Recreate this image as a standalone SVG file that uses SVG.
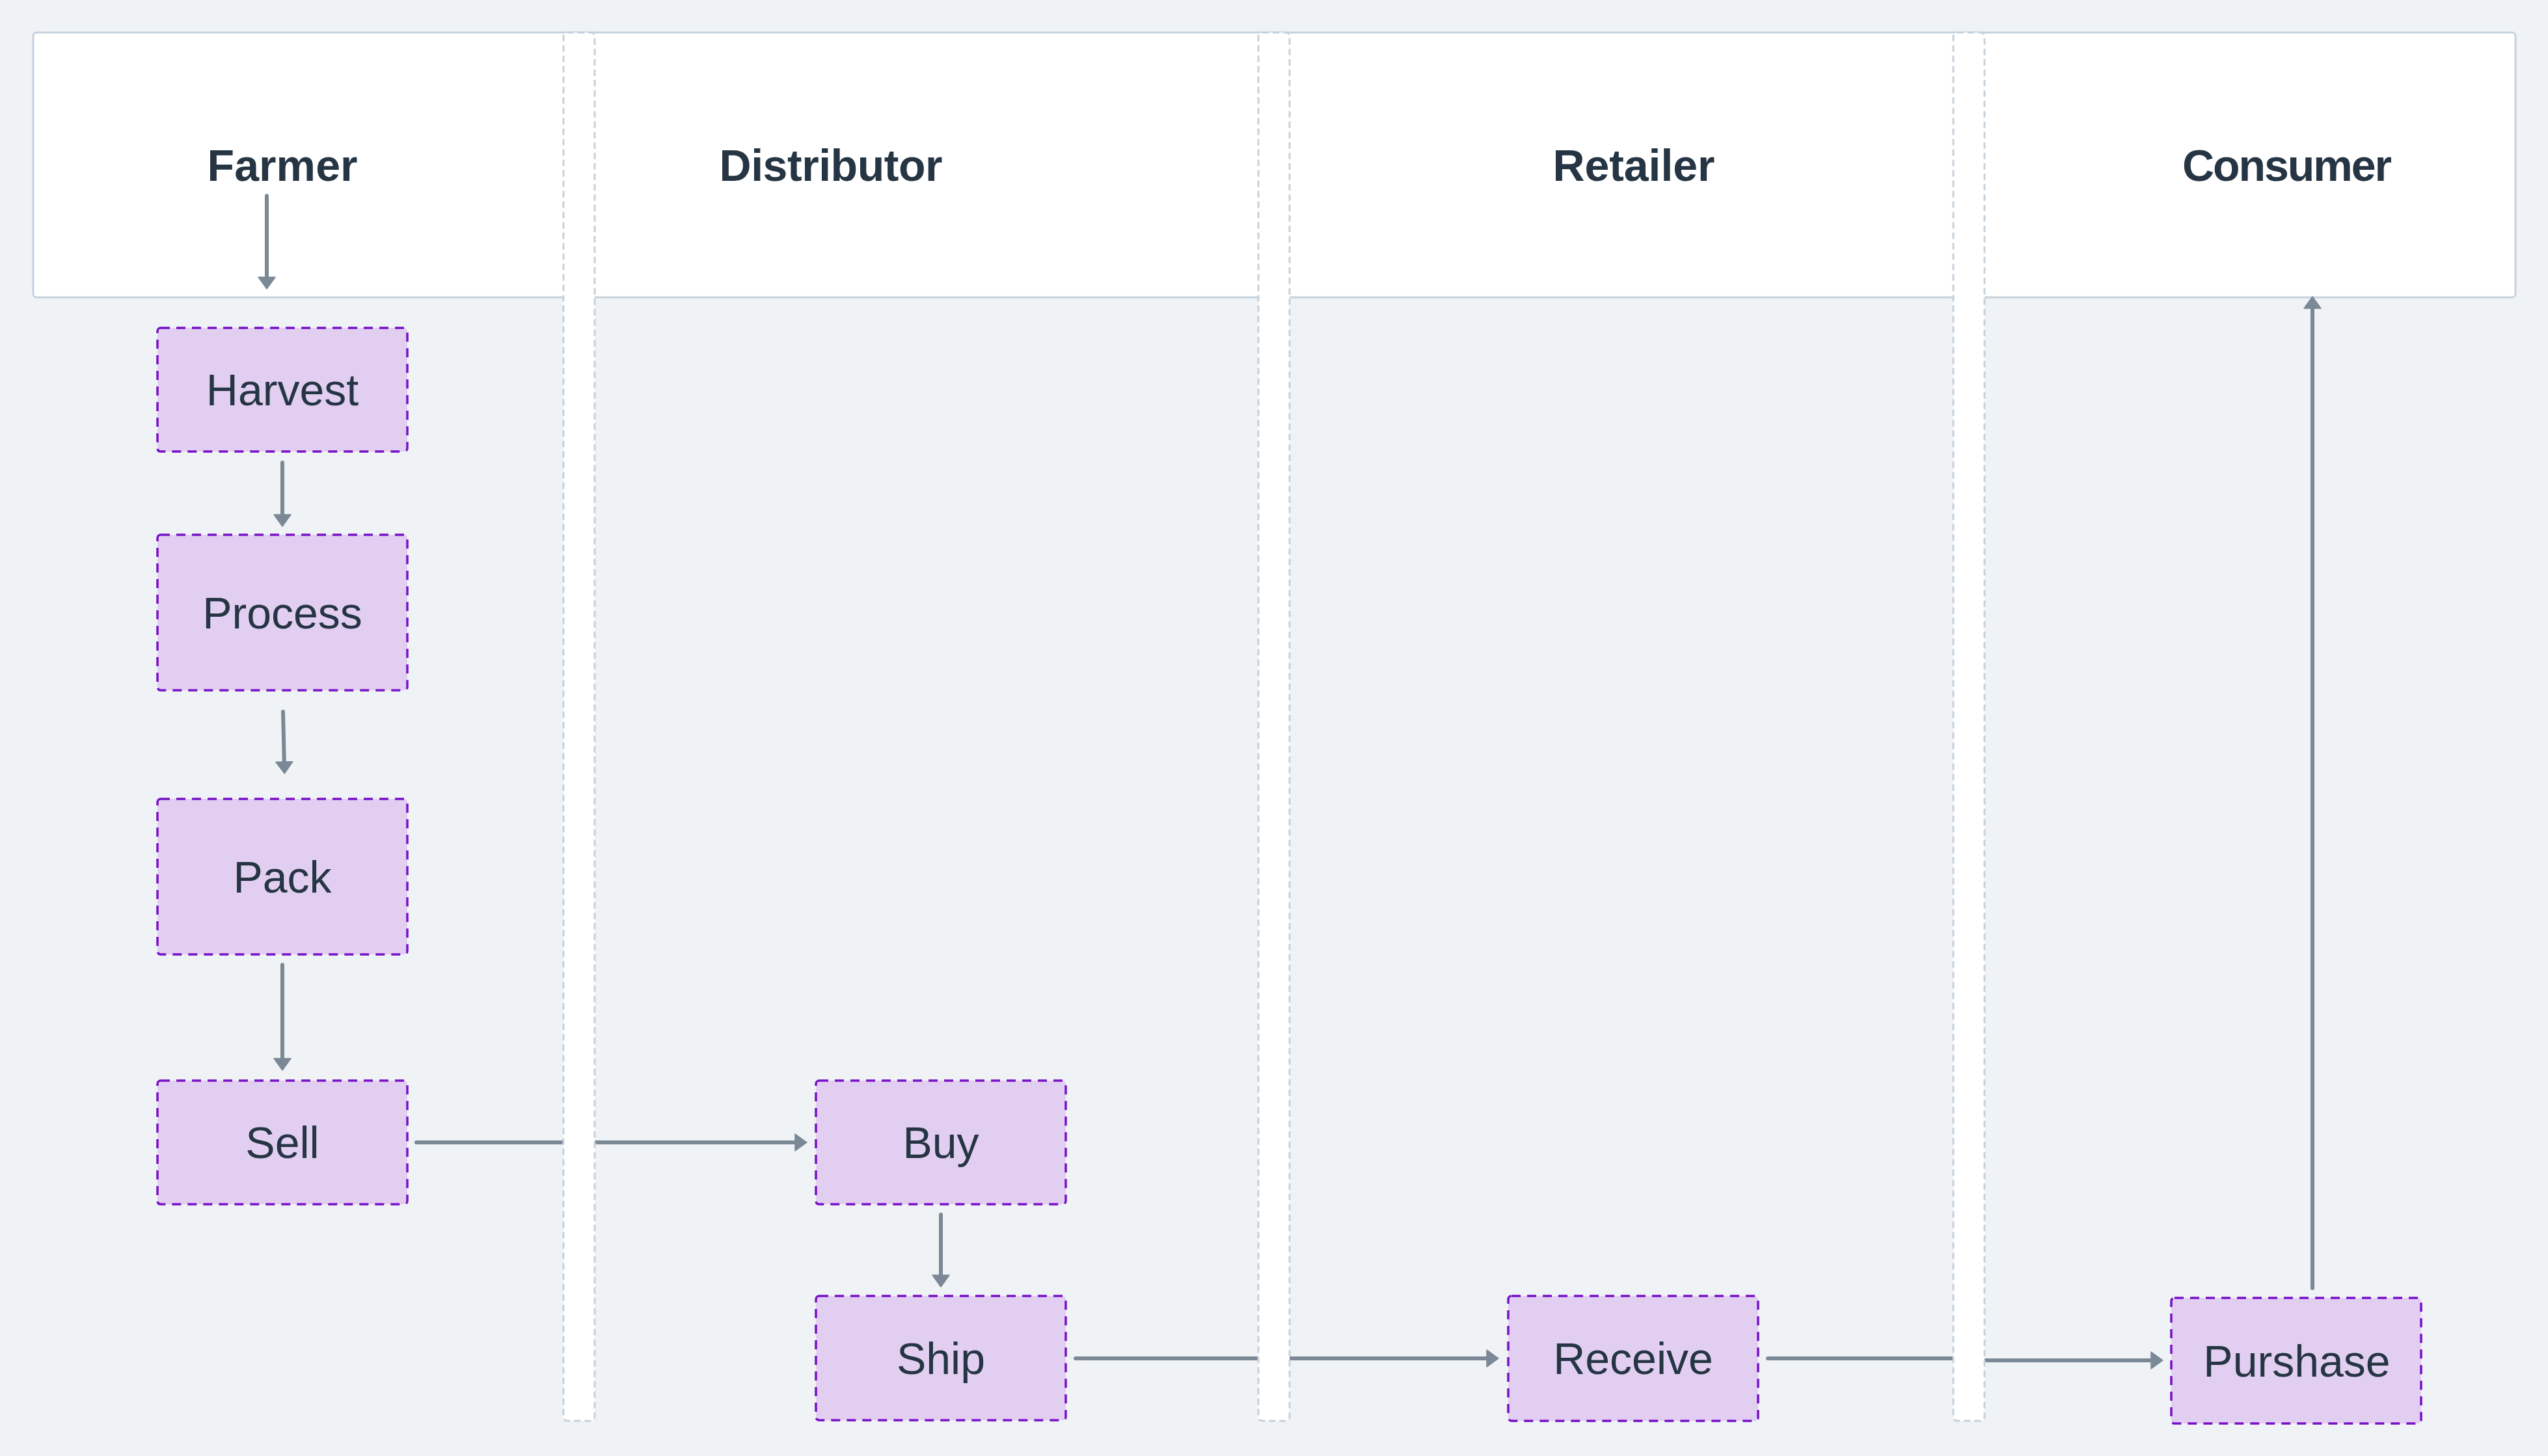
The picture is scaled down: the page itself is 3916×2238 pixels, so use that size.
<svg xmlns="http://www.w3.org/2000/svg" width="3916" height="2238" viewBox="0 0 3916 2238">
<style>
.bg{fill:#eff3f6}
.hdr{fill:#ffffff;stroke:#c6d2db;stroke-width:3}
.sep{fill:#ffffff;stroke:#c6d2db;stroke-width:3;stroke-dasharray:10 6}
.lbl{font-family:"Liberation Sans",Arial,sans-serif;font-weight:bold;font-size:68px;fill:#263543;text-anchor:middle}
.box{fill:#e1cef1;stroke:#7811c7;stroke-width:3.5;stroke-dasharray:14 10}
.txt{font-family:"Liberation Sans",Arial,sans-serif;font-size:68px;fill:#263543;text-anchor:middle}
.edge{fill:none;stroke:#7b8895;stroke-width:6;stroke-linecap:round;stroke-linejoin:round;marker-end:url(#arr)}
</style>
<defs>
<marker id="arr" markerUnits="userSpaceOnUse" markerWidth="20" markerHeight="28" viewBox="0 0 20 28" refX="8" refY="14" orient="auto">
<path d="M1,1 L19,14 L1,27 z" fill="#7b8895" stroke="#7b8895" stroke-width="1.5" stroke-linejoin="round"/>
</marker>
</defs>
<rect class="bg" x="0" y="0" width="3916" height="2238"/>
<g id="header">
<rect class="hdr" x="51" y="50" width="3815" height="407" rx="5"/>
<text class="lbl" x="434" y="278" textLength="231">Farmer</text>
<text class="lbl" x="1277" y="278" textLength="343">Distributor</text>
<text class="lbl" x="2511" y="278" textLength="249">Retailer</text>
<text class="lbl" x="3515" y="278" textLength="322">Consumer</text>
</g>
<g id="connectors">
<path class="edge" d="M410,301 L410,433"/>
<path class="edge" d="M434,711 L434,798"/>
<path class="edge" d="M435,1094 L437,1178"/>
<path class="edge" d="M434,1483 L434,1634"/>
<path class="edge" d="M640,1756 L1229,1756"/>
<path class="edge" d="M1446,1867 L1446,1967"/>
<path class="edge" d="M1653,2088 L2292,2088"/>
<path class="edge" d="M2717,2088 L3026,2088 L3026,2091 L3313,2091"/>
<path class="edge" d="M3554,1980 L3554,467"/>
</g>
<g id="separators">
<rect class="sep" x="866" y="50" width="48" height="2134" rx="6"/>
<rect class="sep" x="1934" y="50" width="48" height="2134" rx="6"/>
<rect class="sep" x="3002" y="50" width="48" height="2134" rx="6"/>
</g>
<g id="harvest"><rect class="box" x="242" y="504" width="384" height="190" rx="5"/><text class="txt" x="434" y="623">Harvest</text></g>
<g id="process"><rect class="box" x="242" y="822" width="384" height="239" rx="5"/><text class="txt" x="434" y="966">Process</text></g>
<g id="pack"><rect class="box" x="242" y="1228" width="384" height="239" rx="5"/><text class="txt" x="434" y="1372">Pack</text></g>
<g id="sell"><rect class="box" x="242" y="1661" width="384" height="190" rx="5"/><text class="txt" x="434" y="1780">Sell</text></g>
<g id="buy"><rect class="box" x="1254" y="1661" width="384" height="190" rx="5"/><text class="txt" x="1446" y="1780">Buy</text></g>
<g id="ship"><rect class="box" x="1254" y="1992" width="384" height="191" rx="5"/><text class="txt" x="1446" y="2112">Ship</text></g>
<g id="receive"><rect class="box" x="2318" y="1992" width="384" height="192" rx="5"/><text class="txt" x="2510" y="2112">Receive</text></g>
<g id="purshase"><rect class="box" x="3337" y="1995" width="384" height="193" rx="5"/><text class="txt" x="3530" y="2116">Purshase</text></g>
</svg>
